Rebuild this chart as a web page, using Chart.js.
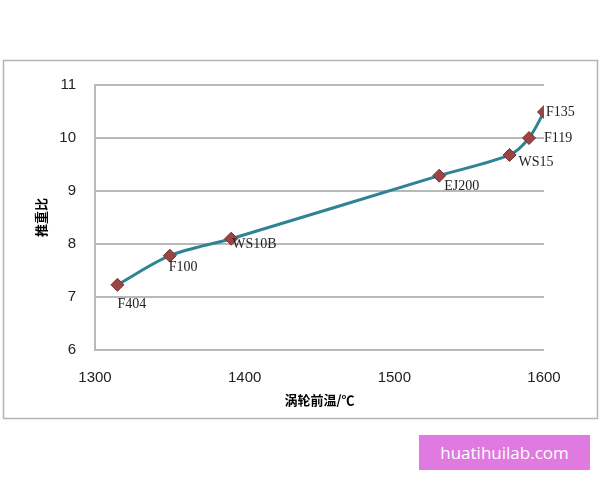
<!DOCTYPE html>
<html>
<head>
<meta charset="utf-8">
<script src="https://cdn.jsdelivr.net/npm/chart.js@4"></script>
<style>
  body { margin: 0; background: #fff; }
  #wrap { position: relative; width: 600px; height: 480px; }
  #mark {
    position: absolute; left: 419px; top: 435px; width: 171px; height: 35px;
    background: #e07ae0; color: #fff; font-family: "Open Sans", sans-serif;
    font-size: 17px; line-height: 35px; text-align: center;
  }
</style>
</head>
<body>
<div id="wrap">
  <canvas id="chart" width="600" height="480"></canvas>
  <div id="mark">huatihuilab.com</div>
</div>
<script>
const engines = ["F404", "F100", "WS10B", "EJ200", "WS15", "F119", "F135"];
const turbineTemp = [1315, 1350, 1391, 1530, 1577, 1590, 1600];
const thrustWeight = [7.23, 7.78, 8.1, 9.29, 9.68, 10.0, 10.49];
const xTicks = [1300, 1400, 1500, 1600];
const yTicks = [6, 7, 8, 9, 10, 11];

// label placement relative to each marker
const labelOffset = {
  F404: [0, 20], F100: [-1, 12], WS10B: [1, 6], EJ200: [5, 11],
  WS15: [9, 7], F119: [15, 0], F135: [2, 0]
};

const frame = {
  id: "frame",
  beforeDraw(chart) {
    const ctx = chart.ctx;
    ctx.save();
    ctx.strokeStyle = "#b5b5b5";
    ctx.lineWidth = 1.5;
    ctx.strokeRect(3.5, 60.5, 594, 358);
    ctx.restore();
  }
};

const pointLabels = {
  id: "pointLabels",
  afterDatasetsDraw(chart) {
    const ctx = chart.ctx;
    const pts = chart.getDatasetMeta(0).data;
    ctx.save();
    ctx.font = "14px 'Liberation Serif'";
    ctx.fillStyle = "#222";
    ctx.textBaseline = "middle";
    ctx.textAlign = "left";
    pts.forEach((p, i) => {
      const o = labelOffset[engines[i]];
      ctx.fillText(engines[i], p.x + o[0], p.y + o[1]);
    });
    ctx.restore();
  }
};

new Chart("chart", {
  type: "line",
  data: {
    datasets: [{
      data: turbineTemp.map((t, i) => ({ x: t, y: thrustWeight[i] })),
      borderColor: "#2e8494",
      borderWidth: 3,
      tension: 0.3,
      pointStyle: "rectRot",
      pointRadius: 6.5,
      pointBackgroundColor: "#9b4444",
      pointBorderColor: "#7a3030",
      pointBorderWidth: 1,
      fill: false
    }]
  },
  options: {
    responsive: false,
    animation: false,
    layout: { padding: { left: 29, right: 56, top: 85, bottom: 72 } },
    plugins: { legend: { display: false }, tooltip: { enabled: false } },
    scales: {
      x: {
        type: "linear",
        min: 1300, max: 1600,
        afterBuildTicks(s) { s.ticks = xTicks.map(v => ({ value: v })); },
        afterFit(s) { s.height = 58; },
        grid: { display: false, drawTicks: false },
        border: { display: false },
        ticks: {
          padding: 19, color: "#222",
          font: { family: "Liberation Sans", size: 15 },
          callback: v => String(v)
        },
        title: {
          display: true, text: "涡轮前温/℃", color: "#000",
          padding: { top: 0, bottom: 0 },
          font: { family: "Noto Sans CJK SC", size: 13, weight: "bold" }
        }
      },
      y: {
        min: 6, max: 11,
        afterBuildTicks(s) { s.ticks = yTicks.map(v => ({ value: v })); },
        afterFit(s) { s.width = 66; },
        grid: { color: "#b9b9b9", lineWidth: 2, drawTicks: false },
        border: { color: "#b9b9b9", width: 2 },
        ticks: { padding: 19, color: "#222", font: { family: "Liberation Sans", size: 15 } },
        title: {
          display: true, text: "推重比", color: "#000",
          padding: { top: 4, bottom: 0 },
          font: { family: "Noto Sans CJK SC", size: 13, weight: "bold" }
        }
      }
    }
  },
  plugins: [frame, pointLabels]
});
</script>
</body>
</html>
